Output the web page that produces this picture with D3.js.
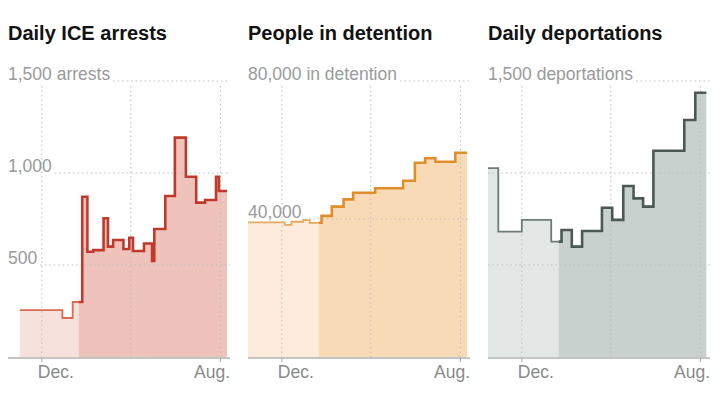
<!DOCTYPE html>
<html>
<head>
<meta charset="utf-8">
<script src="https://cdn.jsdelivr.net/npm/d3@7"></script>
<style>
  html, body { margin: 0; padding: 0; background: #fff; }
  svg { display: block; }
</style>
</head>
<body>
<svg id="chart" width="720" height="406"></svg>
<script>
// ---------- DATA ----------
const titles = ["Daily ICE arrests", "People in detention", "Daily deportations"];

// step series: each value holds from its start date until the next start date
const arrestStarts = ["2024-11-01","2024-12-29","2025-01-12","2025-01-25","2025-02-01","2025-02-09","2025-02-23","2025-03-01","2025-03-08","2025-03-22","2025-03-30","2025-04-04","2025-04-19","2025-04-30","2025-05-03","2025-05-18","2025-05-31","2025-06-15","2025-06-29","2025-07-11","2025-07-26","2025-07-30"];
const arrestValues = [255,212,299,871,572,581,754,600,636,587,648,576,617,522,696,875,1192,980,839,853,980,902];
const arrestEnd = "2025-08-10";

const detentionStarts = ["2024-10-16","2024-12-05","2024-12-14","2024-12-30","2025-01-08","2025-01-24","2025-02-07","2025-02-23","2025-03-08","2025-04-07","2025-05-15","2025-05-31","2025-06-14","2025-06-28","2025-07-25"];
const detentionValues = [39000,38300,39200,39700,38900,40900,43600,45700,47600,48900,51100,56300,57600,56600,59200];
const detentionEnd = "2025-08-10";

const deportStarts = ["2024-10-16","2024-10-30","2024-12-01","2025-01-10","2025-01-24","2025-02-07","2025-02-21","2025-03-20","2025-04-03","2025-04-18","2025-05-02","2025-05-15","2025-05-29","2025-07-10","2025-07-25"];
const deportValues = [1026,681,745,627,690,600,685,811,745,929,862,817,1121,1288,1436];
const deportEnd = "2025-08-09";

const xDomain = ["2024-10-16", "2025-08-14"];
const boundaryDate = "2025-01-20";
const gridDates = ["2024-12-01", "2025-04-01", "2025-08-01"];
const tickDates = ["2024-12-01", "2025-08-01"];
const tickLabels = ["Dec.", "Aug."];

const arrestTicks = [500, 1000, 1500];
const arrestTickLabels = ["500", "1,000", "1,500 arrests"];
const detentionTicks = [40000, 80000];
const detentionTickLabels = ["40,000", "80,000 in detention"];
const deportTicks = [500, 1000, 1500];
const deportTickLabels = ["", "", "1,500 deportations"];

const arrestMax = 1500, detentionMax = 80000, deportMax = 1500;

// ---------- STYLE / LAYOUT ----------
const parse = d3.timeParse("%Y-%m-%d");
const panels = [
  {title: titles[0], starts: arrestStarts, values: arrestValues, end: arrestEnd, ticks: arrestTicks, tickLabels: arrestTickLabels, max: arrestMax,
   lineLight: "#dc6a55", lineDark: "#c0392b", areaLight: "#f7e1dc", areaDark: "#eec3bb"},
  {title: titles[1], starts: detentionStarts, values: detentionValues, end: detentionEnd, ticks: detentionTicks, tickLabels: detentionTickLabels, max: detentionMax,
   lineLight: "#e7a860", lineDark: "#e08e2c", areaLight: "#fdecdc", areaDark: "#f9dab6"},
  {title: titles[2], starts: deportStarts, values: deportValues, end: deportEnd, ticks: deportTicks, tickLabels: deportTickLabels, max: deportMax,
   lineLight: "#6f7b76", lineDark: "#4b5853", areaLight: "#e3e7e5", areaDark: "#c8d1cd"}
];

const svg = d3.select("#chart");
const panelW = 240;
const plotLeft = 8, plotRight = 230, plotTop = 81, plotBottom = 357;
const font = "'Liberation Sans', Arial, sans-serif";

const x = d3.scaleTime().domain(xDomain.map(parse)).range([plotLeft, plotRight]);
const bx = x(parse(boundaryDate));

panels.forEach((p, i) => {
  const g = svg.append("g").attr("transform", `translate(${i * panelW},0)`);
  const y = d3.scaleLinear().domain([0, p.max]).range([plotBottom, plotTop]);

  const pts = p.starts.map((d, k) => ({date: parse(d), value: p.values[k]}));
  pts.push({date: parse(p.end), value: p.values[p.values.length - 1]});

  const idA = `clipA${i}`, idB = `clipB${i}`;
  const defs = g.append("defs");
  defs.append("clipPath").attr("id", idA).append("rect")
    .attr("x", 0).attr("y", 0).attr("width", bx).attr("height", 406);
  defs.append("clipPath").attr("id", idB).append("rect")
    .attr("x", bx).attr("y", 0).attr("width", 300).attr("height", 406);

  const area = d3.area().curve(d3.curveStepAfter)
    .x(d => x(d.date)).y0(y(0)).y1(d => y(d.value));
  const line = d3.line().curve(d3.curveStepAfter)
    .x(d => x(d.date)).y(d => y(d.value));

  g.append("path").datum(pts).attr("d", area).attr("fill", p.areaLight).attr("clip-path", `url(#${idA})`);
  g.append("path").datum(pts).attr("d", area).attr("fill", p.areaDark).attr("clip-path", `url(#${idB})`);

  g.append("text").attr("x", plotLeft).attr("y", 40)
    .attr("font-family", font).attr("font-weight", "bold").attr("font-size", 20)
    .attr("fill", "#121212").text(p.title);

  g.selectAll(".vg").data(gridDates).enter().append("line")
    .attr("x1", d => x(parse(d))).attr("x2", d => x(parse(d)))
    .attr("y1", 86).attr("y2", plotBottom)
    .attr("stroke", "#bdbdbd").attr("stroke-width", 1).attr("stroke-dasharray", "1.5,3");

  p.ticks.forEach((t, k) => {
    const yy = y(t);
    let startX = plotLeft;
    const lbl = p.tickLabels[k];
    if (lbl) {
      const txt = g.append("text").attr("x", plotLeft).attr("y", yy - 1)
        .attr("font-family", font).attr("font-size", 17.5)
        .attr("fill", "#9a9a9a").text(lbl);
      startX = plotLeft + txt.node().getComputedTextLength() + 3;
    }
    g.append("line").attr("x1", startX).attr("x2", plotRight).attr("y1", yy).attr("y2", yy)
      .attr("stroke", "#bdbdbd").attr("stroke-width", 1).attr("stroke-dasharray", "1.5,3");
  });

  g.append("path").datum(pts).attr("d", line).attr("fill", "none")
    .attr("stroke", p.lineLight).attr("stroke-width", 1.8).attr("clip-path", `url(#${idA})`);
  g.append("path").datum(pts).attr("d", line).attr("fill", "none")
    .attr("stroke", p.lineDark).attr("stroke-width", 2.6).attr("stroke-linejoin", "miter")
    .attr("clip-path", `url(#${idB})`);

  g.append("line").attr("x1", plotLeft).attr("x2", plotRight).attr("y1", plotBottom + 1).attr("y2", plotBottom + 1)
    .attr("stroke", "#c4c4c4").attr("stroke-width", 2);
  tickDates.forEach((d, k) => {
    const tx = x(parse(d));
    g.append("line").attr("x1", tx).attr("x2", tx).attr("y1", plotBottom + 1).attr("y2", plotBottom + 5)
      .attr("stroke", "#aaa").attr("stroke-width", 1);
    const t = g.append("text").attr("y", 378)
      .attr("font-family", font).attr("font-size", 17.5).attr("fill", "#8a8a8a").text(tickLabels[k]);
    if (k === 0) t.attr("x", tx - 4).attr("text-anchor", "start");
    else t.attr("x", plotRight).attr("text-anchor", "end");
  });
});
</script>
</body>
</html>
